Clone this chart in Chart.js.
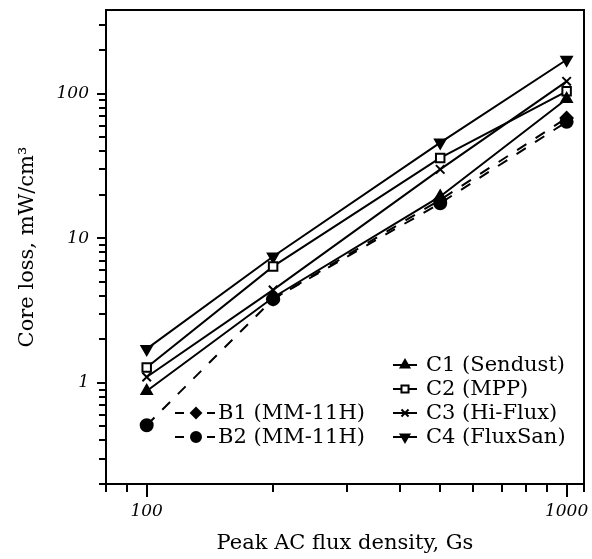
<!DOCTYPE html>
<html>
<head>
<meta charset="utf-8">
<script src="https://cdn.jsdelivr.net/npm/chart.js@4.4.1/dist/chart.umd.min.js"></script>
<style>
  html, body { margin: 0; padding: 0; background: #fff; }
  #wrap { width: 592px; height: 559px; }
</style>
</head>
<body>
<div id="wrap"><canvas id="lossChart"></canvas></div>
<script>
// -----------------------------------------
// Daten
// -----------------------------------------
const fluxDensity = [100, 200, 500, 1000];

const lossC1 = [0.88, 3.9, 19.5, 92];    // Sendust
const lossC2 = [1.28, 6.4, 36, 104];     // MPP
const lossC3 = [1.1, 4.4, 30, 122];      // Hi-Flux
const lossC4 = [1.72, 7.5, 46, 172];     // FluxSan
const lossB1 = [null, 3.8, 18.5, 68];    // MM-11H
const lossB2 = [0.51, 3.8, 17.5, 64];    // MM-11H

const xTicks = [80, 90, 100, 200, 300, 400, 500, 600, 700, 800, 900, 1000, 1100];
const xLabels = [100, 1000];
const yTicks = [0.2, 0.3, 0.4, 0.5, 0.6, 0.7, 0.8, 0.9, 1, 2, 3, 4, 5, 6, 7, 8, 9,
                10, 20, 30, 40, 50, 60, 70, 80, 90, 100, 200, 300];
const yLabels = [1, 10, 100];

const FONT = "'DejaVu Serif', 'Liberation Serif', serif";

// -----------------------------------------
// Hilfsfunktionen
// -----------------------------------------
function mkSet(label, data, style, rot, dashed, fill) {
    return {
        label: label,
        data: data,
        borderColor: "#000",
        backgroundColor: fill || "#000",
        borderWidth: 2,
        borderDash: dashed ? [11, 11] : [],
        pointStyle: style,
        rotation: rot,
        pointRadius: 6,
        pointBorderWidth: 2,
        pointBorderColor: "#000",
        pointBackgroundColor: fill || "#000",
        tension: 0
    };
}

function setTicks(list) {
    return function (scale) {
        scale.ticks = list.map(v => ({ value: v, major: false }));
    };
}

// Rahmen, Teilstriche und Legende
const framePlugin = {
    id: "frame",
    afterDraw(chart) {
        const ctx = chart.ctx;
        const a = chart.chartArea;
        const xs = chart.scales.x, ys = chart.scales.y;
        ctx.save();
        ctx.strokeStyle = "#000";
        ctx.lineWidth = 2;
        ctx.strokeRect(a.left, a.top, a.right - a.left, a.bottom - a.top);

        ctx.beginPath();
        xTicks.forEach(v => {
            const px = Math.round(xs.getPixelForValue(v));
            const len = xLabels.includes(v) ? 13 : 8;
            ctx.moveTo(px, a.bottom);
            ctx.lineTo(px, a.bottom + len);
        });
        yTicks.forEach(v => {
            const py = Math.round(ys.getPixelForValue(v));
            const len = yLabels.includes(v) ? 9 : 7;
            ctx.moveTo(a.left, py);
            ctx.lineTo(a.left - len, py);
        });
        ctx.stroke();

        // Legende
        const rows = [a.bottom - 119, a.bottom - 95, a.bottom - 71, a.bottom - 47];
        ctx.font = "21px " + FONT;
        ctx.textBaseline = "middle";
        ctx.fillStyle = "#000";
        [0, 1, 2, 3].forEach(i => {
            const ds = chart.data.datasets[i];
            const y = rows[i];
            const x0 = a.left + 287;
            ctx.beginPath();
            ctx.setLineDash([]);
            ctx.lineWidth = 2;
            ctx.moveTo(x0, y);
            ctx.lineTo(x0 + 24, y);
            ctx.stroke();
            ctx.fillStyle = ds.pointBackgroundColor;
            ctx.strokeStyle = "#000";
            Chart.helpers.drawPoint(ctx, { pointStyle: ds.pointStyle, rotation: ds.rotation,
                radius: 5, borderWidth: 2 }, x0 + 12, y);
            ctx.fillStyle = "#000";
            ctx.fillText(ds.label, x0 + 33, y + 1);
        });
        [4, 5].forEach((i, k) => {
            const ds = chart.data.datasets[i];
            const y = rows[2 + k];
            const x0 = a.left + 69;
            ctx.beginPath();
            ctx.lineWidth = 2;
            ctx.moveTo(x0, y); ctx.lineTo(x0 + 9, y);
            ctx.moveTo(x0 + 32, y); ctx.lineTo(x0 + 40, y);
            ctx.stroke();
            ctx.fillStyle = "#000";
            Chart.helpers.drawPoint(ctx, { pointStyle: ds.pointStyle, rotation: ds.rotation,
                radius: 5, borderWidth: 1 }, x0 + 21, y);
            ctx.fillText(ds.label, x0 + 43, y + 1);
        });
        ctx.restore();
    }
};

// -----------------------------------------
// Diagramm
// -----------------------------------------
const ctx = document.getElementById("lossChart").getContext("2d");

new Chart(ctx, {
    type: "line",
    data: {
        datasets: [
            mkSet("C1 (Sendust)", lossC1, "triangle", 0, false),
            mkSet("C2 (MPP)", lossC2, "rect", 0, false, "#fff"),
            mkSet("C3 (Hi-Flux)", lossC3, "crossRot", 0, false),
            mkSet("C4 (FluxSan)", lossC4, "triangle", 180, false),
            mkSet("B1 (MM-11H)", lossB1, "rectRot", 0, true),
            mkSet("B2 (MM-11H)", lossB2, "circle", 0, true)
        ].map(ds => {
            ds.data = ds.data.map((v, i) => ({ x: fluxDensity[i], y: v }));
            return ds;
        })
    },
    options: {
        responsive: true,
        maintainAspectRatio: false,
        animation: false,
        spanGaps: false,
        layout: { padding: { top: 10, right: 8, left: 0, bottom: 0 } },
        plugins: { legend: { display: false }, tooltip: { enabled: false } },
        scales: {
            x: {
                type: "logarithmic",
                min: 80, max: 1100,
                afterBuildTicks: setTicks(xTicks),
                afterFit: s => { s.height = 75; s.paddingLeft = 0; s.paddingRight = 0; },
                grid: { display: false, drawTicks: true, tickLength: 13 },
                border: { display: false },
                ticks: {
                    autoSkip: false, maxRotation: 0, padding: 4,
                    color: "#000",
                    font: { family: FONT, size: 17, style: "italic" },
                    callback: v => xLabels.includes(v) ? String(v) : ""
                },
                title: {
                    display: true, text: "Peak AC flux density, Gs", color: "#000",
                    font: { family: FONT, size: 21 }, padding: { top: 0, bottom: 3 }
                }
            },
            y: {
                type: "logarithmic",
                min: 0.2, max: 380,
                afterBuildTicks: setTicks(yTicks),
                afterFit: s => { s.width = 106; s.paddingTop = 0; s.paddingBottom = 0; },
                grid: { display: false, drawTicks: true, tickLength: 9 },
                border: { display: false },
                ticks: {
                    autoSkip: false, padding: 8,
                    color: "#000",
                    font: { family: FONT, size: 17, style: "italic" },
                    callback: v => yLabels.includes(v) ? String(v) : ""
                },
                title: {
                    display: true, text: "Core loss, mW/cm³", color: "#000",
                    font: { family: FONT, size: 21 }, padding: { top: 15, bottom: 0 }
                }
            }
        }
    },
    plugins: [framePlugin]
});
</script>
</body>
</html>
